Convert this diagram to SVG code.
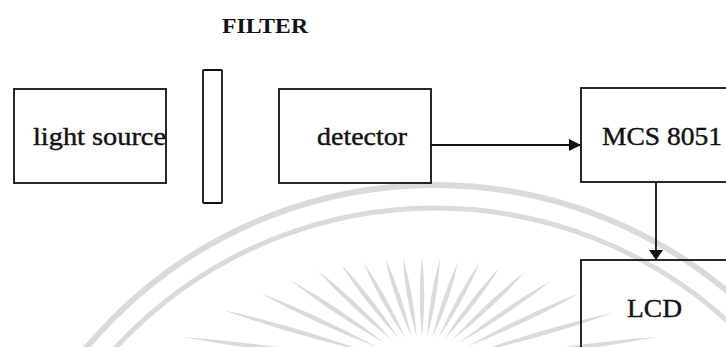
<svg xmlns="http://www.w3.org/2000/svg" width="726" height="347" viewBox="0 0 726 347">
  <style>
    .box { fill: none; stroke: #111; stroke-width: 1.8; }
    .lbl { font-family: "Liberation Serif", "DejaVu Serif", serif; font-size: 25px; fill: #111; stroke: #111; stroke-width: 0.4; }
    .title { font-family: "Liberation Serif", "DejaVu Serif", serif; font-size: 21px; font-weight: bold; fill: #111; }
    .wm { fill: none; stroke: #dadada; }
    .conn { stroke: #111; stroke-width: 1.8; fill: none; }
  </style>
  <defs>
    <path id="ray" d="M0.28,0 Q0.66,-4.6 1,0 Q0.66,4.6 0.28,0Z" fill="#dadada"/>
    <marker id="ah" viewBox="0 0 12 12" refX="12" refY="6" markerWidth="12" markerHeight="12" markerUnits="userSpaceOnUse" orient="auto">
      <path d="M0,0 L12,6 L0,12 Z" fill="#111"/>
    </marker>
    <marker id="ahv" viewBox="0 0 10 14" refX="10" refY="7" markerWidth="10" markerHeight="14" markerUnits="userSpaceOnUse" orient="auto">
      <path d="M0,0 L10,7 L0,14 Z" fill="#111"/>
    </marker>
  </defs>
  <rect width="726" height="347" fill="#ffffff"/>

  <g id="watermark">
    <circle class="wm" cx="435" cy="640" r="455" stroke-width="6"/>
    <circle class="wm" cx="435" cy="643" r="435" stroke-width="5"/>
    <g transform="translate(422 368)">
      <use href="#ray" transform="rotate(-172.6) scale(241 1)"/>
      <use href="#ray" transform="rotate(-163.7) scale(207 1)"/>
      <use href="#ray" transform="rotate(-155.2) scale(178 1)"/>
      <use href="#ray" transform="rotate(-146.3) scale(159 1)"/>
      <use href="#ray" transform="rotate(-137) scale(144 1)"/>
      <use href="#ray" transform="rotate(-128) scale(133 1)"/>
      <use href="#ray" transform="rotate(-119.1) scale(121 1)"/>
      <use href="#ray" transform="rotate(-108.6) scale(116 1)"/>
      <use href="#ray" transform="rotate(-99.8) scale(112 1)"/>
      <use href="#ray" transform="rotate(-90) scale(111 1)"/>
      <use href="#ray" transform="rotate(-80.7) scale(112 1)"/>
      <use href="#ray" transform="rotate(-71.2) scale(112 1)"/>
      <use href="#ray" transform="rotate(-61.3) scale(121 1)"/>
      <use href="#ray" transform="rotate(-52.3) scale(128 1)"/>
      <use href="#ray" transform="rotate(-43) scale(141 1)"/>
      <use href="#ray" transform="rotate(-34.1) scale(157 1)"/>
      <use href="#ray" transform="rotate(-25.4) scale(175 1)"/>
      <use href="#ray" transform="rotate(-16.1) scale(199 1)"/>
      <use href="#ray" transform="rotate(-7.5) scale(237 1)"/>
    </g>
  </g>

  <g id="filter-title">
    <text class="title" x="222" y="33" textLength="86" lengthAdjust="spacingAndGlyphs">FILTER</text>
  </g>

  <g id="light-source">
    <rect class="box" x="14" y="89" width="152" height="94"/>
    <text class="lbl" x="33" y="145" textLength="133" lengthAdjust="spacingAndGlyphs">light source</text>
  </g>

  <g id="filter">
    <rect class="box" x="203" y="70" width="19" height="133" rx="1"/>
  </g>

  <g id="detector">
    <rect class="box" x="279" y="89" width="152" height="94"/>
    <text class="lbl" x="317" y="145" textLength="90" lengthAdjust="spacingAndGlyphs">detector</text>
  </g>

  <g id="mcs8051">
    <rect class="box" x="581" y="88" width="200" height="94"/>
    <text class="lbl" x="602" y="145" textLength="120" lengthAdjust="spacingAndGlyphs">MCS 8051</text>
  </g>

  <g id="lcd">
    <rect class="box" x="581" y="260" width="200" height="120"/>
    <text class="lbl" x="627" y="317" font-size="26" textLength="55" lengthAdjust="spacingAndGlyphs">LCD</text>
  </g>

  <g id="connectors">
    <line class="conn" x1="431" y1="145" x2="581" y2="145" marker-end="url(#ah)"/>
    <line class="conn" x1="656" y1="182" x2="656" y2="260" marker-end="url(#ahv)"/>
  </g>
</svg>
